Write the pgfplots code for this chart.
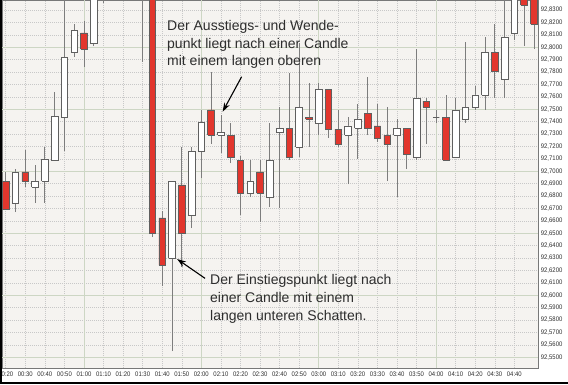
\documentclass[border=0pt]{standalone}
\usepackage{fontspec}
\setmainfont{Liberation Sans}
\usepackage{pgfplots}
\pgfplotsset{compat=1.18}
\usepackage{pgfplotstable}
\usetikzlibrary{arrows.meta}
\definecolor{candlered}{RGB}{226,54,45}
\definecolor{outl}{RGB}{95,95,95}
\definecolor{wick}{RGB}{125,125,125}
\definecolor{bgcol}{RGB}{245,243,240}
\definecolor{mingrid}{RGB}{200,200,200}
\definecolor{majgrid}{RGB}{205,214,196}
\definecolor{txt}{RGB}{45,45,45}
\definecolor{framecol}{RGB}{120,120,120}

% OHLC prices; plotted as (price - 92.5) * 100
\pgfplotstableread{
t o h l c
20 92.6921 92.6994 92.6690 92.6695
25 92.6744 92.7018 92.6671 92.6994
30 92.6994 92.7171 92.6873 92.6921
35 92.6873 92.7050 92.6744 92.6921
40 92.6921 92.7195 92.6744 92.7098
45 92.7090 92.7639 92.7088 92.7445
50 92.7437 92.8421 92.7163 92.7921
55 92.7961 92.8187 92.7921 92.8139
60 92.8115 92.8211 92.7840 92.7985
65 92.8034 92.8480 92.8010 92.8440
70 92.8440 92.8600 92.8356 92.8550
75 92.8550 92.8700 92.8480 92.8620
80 92.8620 92.8750 92.8500 92.8560
85 92.8560 92.8650 92.8430 92.8480
90 92.8480 92.8550 92.7881 92.8420
95 92.8420 92.8460 92.6469 92.6502
100 92.6623 92.6679 92.6074 92.6244
105 92.6300 92.6921 92.5550 92.6921
110 92.6889 92.7195 92.6227 92.6502
115 92.6647 92.7195 92.6542 92.7163
120 92.7163 92.7494 92.6945 92.7397
125 92.7494 92.7800 92.7219 92.7292
130 92.7292 92.7453 92.7147 92.7316
135 92.7292 92.7389 92.7066 92.7114
140 92.7090 92.7123 92.6647 92.6824
145 92.6824 92.7090 92.6792 92.6921
150 92.6994 92.7090 92.6590 92.6824
155 92.6792 92.7389 92.6711 92.7090
160 92.7316 92.7518 92.6703 92.7348
165 92.7348 92.7792 92.7090 92.7114
170 92.7195 92.8034 92.7114 92.7518
175 92.7437 92.7711 92.7195 92.7421
180 92.7389 92.7711 92.7292 92.7663
185 92.7663 92.7663 92.7268 92.7340
190 92.7340 92.7494 92.7195 92.7219
195 92.7292 92.7437 92.6897 92.7365
200 92.7348 92.7542 92.7098 92.7421
205 92.7469 92.7760 92.7292 92.7348
210 92.7365 92.7542 92.7235 92.7268
215 92.7292 92.7518 92.6921 92.7219
220 92.7292 92.7421 92.6792 92.7348
225 92.7348 92.7348 92.7018 92.7139
230 92.7114 92.7985 92.7090 92.7590
235 92.7566 92.7590 92.7219 92.7518
240 92.7437 92.7494 92.7389 92.7437
245 92.7437 92.7615 92.7090 92.7090
250 92.7114 92.7590 92.7114 92.7494
255 92.7421 92.8042 92.7389 92.7518
260 92.7518 92.7687 92.7494 92.7615
265 92.7615 92.8082 92.7494 92.7961
270 92.7961 92.8187 92.7590 92.7808
275 92.7744 92.8421 92.7590 92.8082
280 92.8115 92.8500 92.8058 92.8461
285 92.8480 92.8520 92.8010 92.8340
290 92.8460 92.8500 92.7985 92.8187
}\candles

\begin{document}
\begin{tikzpicture}
\useasboundingbox (0,0) rectangle (568pt,384pt);
\begin{axis}[
  at={(2pt,16pt)}, anchor=south west,
  scale only axis, width=536pt, height=368pt,
  xmin=18.1, xmax=292.1, ymin=4.13, ymax=33.81,
  axis background/.style={fill=bgcol},
  axis line style={draw=framecol, line width=0.8pt},
  xtick={20,30,40,50,60,70,80,90,100,110,120,130,140,150,160,170,180,190,200,210,220,230,240,250,260,270,280},
  xticklabels={00:20,00:30,00:40,00:50,01:00,01:10,01:20,01:30,01:40,01:50,02:00,02:10,02:20,02:30,02:40,02:50,03:00,03:10,03:20,03:30,03:40,03:50,04:00,04:10,04:20,04:30,04:40},
  ytick={5,6,7,8,9,10,11,12,13,14,15,16,17,18,19,20,21,22,23,24,25,26,27,28,29,30,31,32,33},
  yticklabels={{92,5500},{92,5600},{92,5700},{92,5800},{92,5900},{92,6000},{92,6100},{92,6200},{92,6300},{92,6400},{92,6500},{92,6600},{92,6700},{92,6800},{92,6900},{92,7000},{92,7100},{92,7200},{92,7300},{92,7400},{92,7500},{92,7600},{92,7700},{92,7800},{92,7900},{92,8000},{92,8100},{92,8200},{92,8300}},
  yticklabel pos=right,
  major tick length=0pt, minor tick length=0pt,
  grid=major,
  major grid style={draw=mingrid, line width=0.5pt, dash pattern=on 1pt off 1pt},
  extra x ticks={60,120,180,240}, extra x tick labels={},
  extra y ticks={5,10,15,20,25,30}, extra y tick labels={},
  extra tick style={grid=major, major grid style={draw=majgrid, line width=0.7pt, solid}},
  tick label style={font=\fontsize{6.6}{7}\selectfont, text=txt, xscale=0.9, inner sep=0pt},
  xticklabel style={yshift=-4pt},
  yticklabel style={xshift=3pt},
  clip=true,
]
\pgfplotsinvokeforeach{0,...,54}{
  \pgfplotstablegetelem{#1}{t}\of\candles \pgfmathsetmacro\cndT{\pgfplotsretval}
  \pgfplotstablegetelem{#1}{o}\of\candles \pgfmathsetmacro\cndO{(\pgfplotsretval-92.5)*100}
  \pgfplotstablegetelem{#1}{h}\of\candles \pgfmathsetmacro\cndH{(\pgfplotsretval-92.5)*100}
  \pgfplotstablegetelem{#1}{l}\of\candles \pgfmathsetmacro\cndL{(\pgfplotsretval-92.5)*100}
  \pgfplotstablegetelem{#1}{c}\of\candles \pgfmathsetmacro\cndC{(\pgfplotsretval-92.5)*100}
  \pgfmathsetmacro\cndXa{\cndT-1.7}
  \pgfmathsetmacro\cndXb{\cndT+1.7}
  \ifdim\cndC pt<\cndO pt
    \let\cndBot\cndC \let\cndTop\cndO \def\cndFill{candlered}
  \else
    \let\cndBot\cndO \let\cndTop\cndC \def\cndFill{white}
  \fi
  \edef\doplot{%
    \noexpand\addplot[draw=wick, line width=0.7pt] coordinates {(\cndT,\cndL) (\cndT,\cndH)};
    \noexpand\addplot[draw=outl, fill=\cndFill, line width=0.7pt, line join=miter] coordinates {(\cndXa,\cndBot) (\cndXb,\cndBot) (\cndXb,\cndTop) (\cndXa,\cndTop) (\cndXa,\cndBot)};
  }%
  \doplot
}
% annotations
\begin{scope}[every node/.style={anchor=base west, inner sep=0pt, text=txt, font=\fontsize{14}{17}\selectfont}]
\node at (axis cs:102.45,31.33) {Der Ausstiegs- und Wende-};
\node at (axis cs:102.45,29.91) {punkt liegt nach einer Candle};
\node at (axis cs:102.45,28.51) {mit einem langen oberen};
\node at (axis cs:124.4,10.88) {Der Einstiegspunkt liegt nach};
\node at (axis cs:124.4,9.43) {einer Candle mit einem};
\node at (axis cs:124.4,8.00) {langen unteren Schatten.};
\end{scope}
\draw[-{Stealth[length=9pt,width=6pt]}, line width=1.1pt, black] (axis cs:140.6,27.62) -- (axis cs:130.9,24.80);
\draw[-{Stealth[length=9pt,width=6pt]}, line width=1.1pt, black] (axis cs:121.9,11.36) -- (axis cs:107.6,12.92);
\end{axis}
\draw[black, line width=2pt] (1pt,384pt) -- (1pt,1pt) -- (568pt,1pt);
\end{tikzpicture}
\end{document}
